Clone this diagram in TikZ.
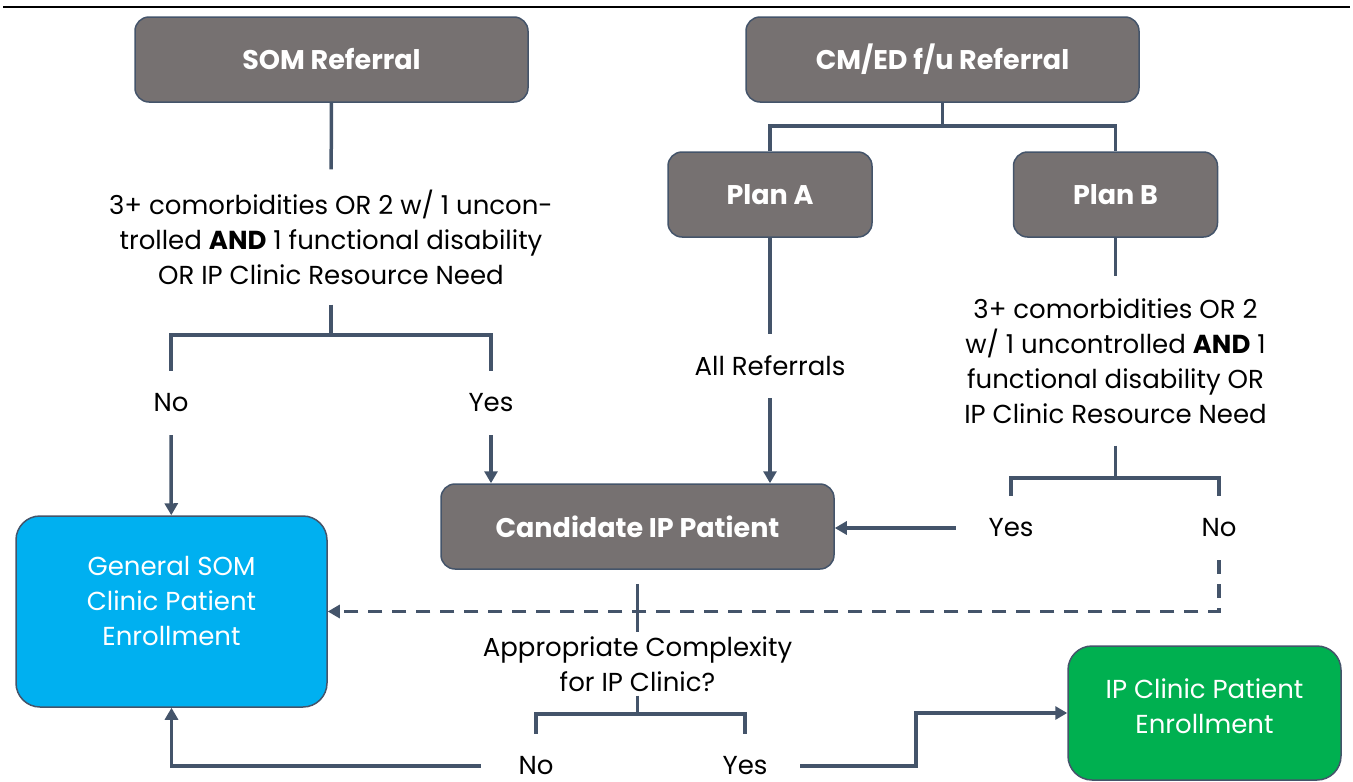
\documentclass[tikz,border=0pt]{standalone}
\usepackage{fontspec}
\setmainfont{Poppins}
\usetikzlibrary{arrows.meta}

\definecolor{boxgray}{RGB}{118,113,113}
\definecolor{edge}{RGB}{68,84,106}
\definecolor{somblue}{RGB}{0,176,240}
\definecolor{ipgreen}{RGB}{0,176,80}

\tikzset{
  box/.style={draw=edge, line width=1.5pt, fill=boxgray, rounded corners=14pt,
    text=white, font=\fontsize{27}{30}\selectfont\bfseries,
    minimum width=393pt, minimum height=85pt},
  endbox/.style={draw=edge, line width=1.5pt, rounded corners=24pt, text=white,
    align=center, font=\fontsize{26}{35}\selectfont},
  cond/.style={align=center, inner xsep=0pt, inner ysep=20pt,
    font=\fontsize{26}{35}\selectfont},
  answer/.style={inner sep=0pt, minimum width=110pt, minimum height=64pt,
    font=\fontsize{26}{35}\selectfont},
  link/.style={draw=edge, line width=3.5pt},
  arrow/.style={link, -{Triangle[length=12pt,width=13pt]}},
}

\begin{document}
\begin{tikzpicture}[x=1pt, y=-1pt]
  \useasboundingbox (0,0) rectangle (1353,782);
  \draw[line width=2pt] (3,7) -- (1350,7);

  % boxes
  \node[box] (somref) at (331.5,59.5) {SOM Referral};
  \node[box] (cmref) at (942.5,59.5) {CM/ED f/u Referral};
  \node[box, minimum width=204pt] (planA) at (770,194.5) {Plan A};
  \node[box, minimum width=204pt] (planB) at (1115.5,194.5) {Plan B};
  \node[box] (cand) at (637.5,526.5) {Candidate IP Patient};
  \node[endbox, fill=somblue, minimum width=311pt, minimum height=191pt] (gensom)
    at (171.5,611.5) {General SOM\\Clinic Patient\\Enrollment\\[-13pt]~};
  \node[endbox, fill=ipgreen, minimum width=273pt, minimum height=134pt] (ipclinic)
    at (1204.5,713) {IP Clinic Patient\\Enrollment\\[-22pt]~};

  % questions and answers
  \node[cond] (cond1) at (331,237) {3+ comorbidities OR 2 w/ 1 uncon-\\trolled \textbf{AND} 1 functional disability\\OR IP Clinic Resource Need};
  \node[answer] (no1) at (171,403) {No};
  \node[answer] (yes1) at (491,403) {Yes};
  \node[answer] (allref) at (770,366) {All Referrals};
  \node[cond, inner ysep=22pt] (cond2) at (1115.5,361) {3+ comorbidities OR 2\\w/ 1 uncontrolled \textbf{AND} 1\\functional disability OR\\IP Clinic Resource Need};
  \node[answer] (yes2) at (1011,528) {Yes};
  \node[answer] (no2) at (1219,528) {No};
  \node[cond, inner ysep=4pt] (cplx) at (637.5,664) {Appropriate Complexity\\for IP Clinic?};
  \node[answer] (no3) at (536,766) {No};
  \node[answer] (yes3) at (745,766) {Yes};

  \coordinate (b1) at (331,335);
  \coordinate (b2) at (942.5,126);
  \coordinate (b3) at (1115.5,478);
  \coordinate (b4) at (637.5,714);
  \coordinate (jog) at (916,766);

  % SOM side
  \draw[link] (somref) -- (cond1);
  \draw[link] (cond1) -- (b1);
  \draw[link] (no1.north) |- (b1) -| (yes1.north);
  \draw[arrow] (no1) -- (gensom);
  \draw[arrow] (yes1) -- (yes1 |- cand.north);

  % CM/ED side
  \draw[link] (cmref) -- (b2);
  \draw[link] (planA.north) |- (b2) -| (planB.north);
  \draw[link] (planA) -- (allref);
  \draw[arrow] (allref) -- (allref |- cand.north);
  \draw[link] (planB) -- (cond2);
  \draw[link] (cond2) -- (b3);
  \draw[link] (yes2.north) |- (b3) -| (no2.north);
  \draw[arrow] (yes2) -- (yes2 -| cand.east);
  \draw[arrow, dash pattern=on 14pt off 10pt] (no2) |- (gensom);

  % complexity check
  \draw[link, shorten <=14pt] (cand) -- (cplx);
  \draw[link] (cplx) -- (b4);
  \draw[link] (no3.north) |- (b4) -| (yes3.north);
  \draw[arrow] (no3) -| (gensom);
  \draw[arrow] (yes3) -- (jog) |- (ipclinic);
\end{tikzpicture}
\end{document}
